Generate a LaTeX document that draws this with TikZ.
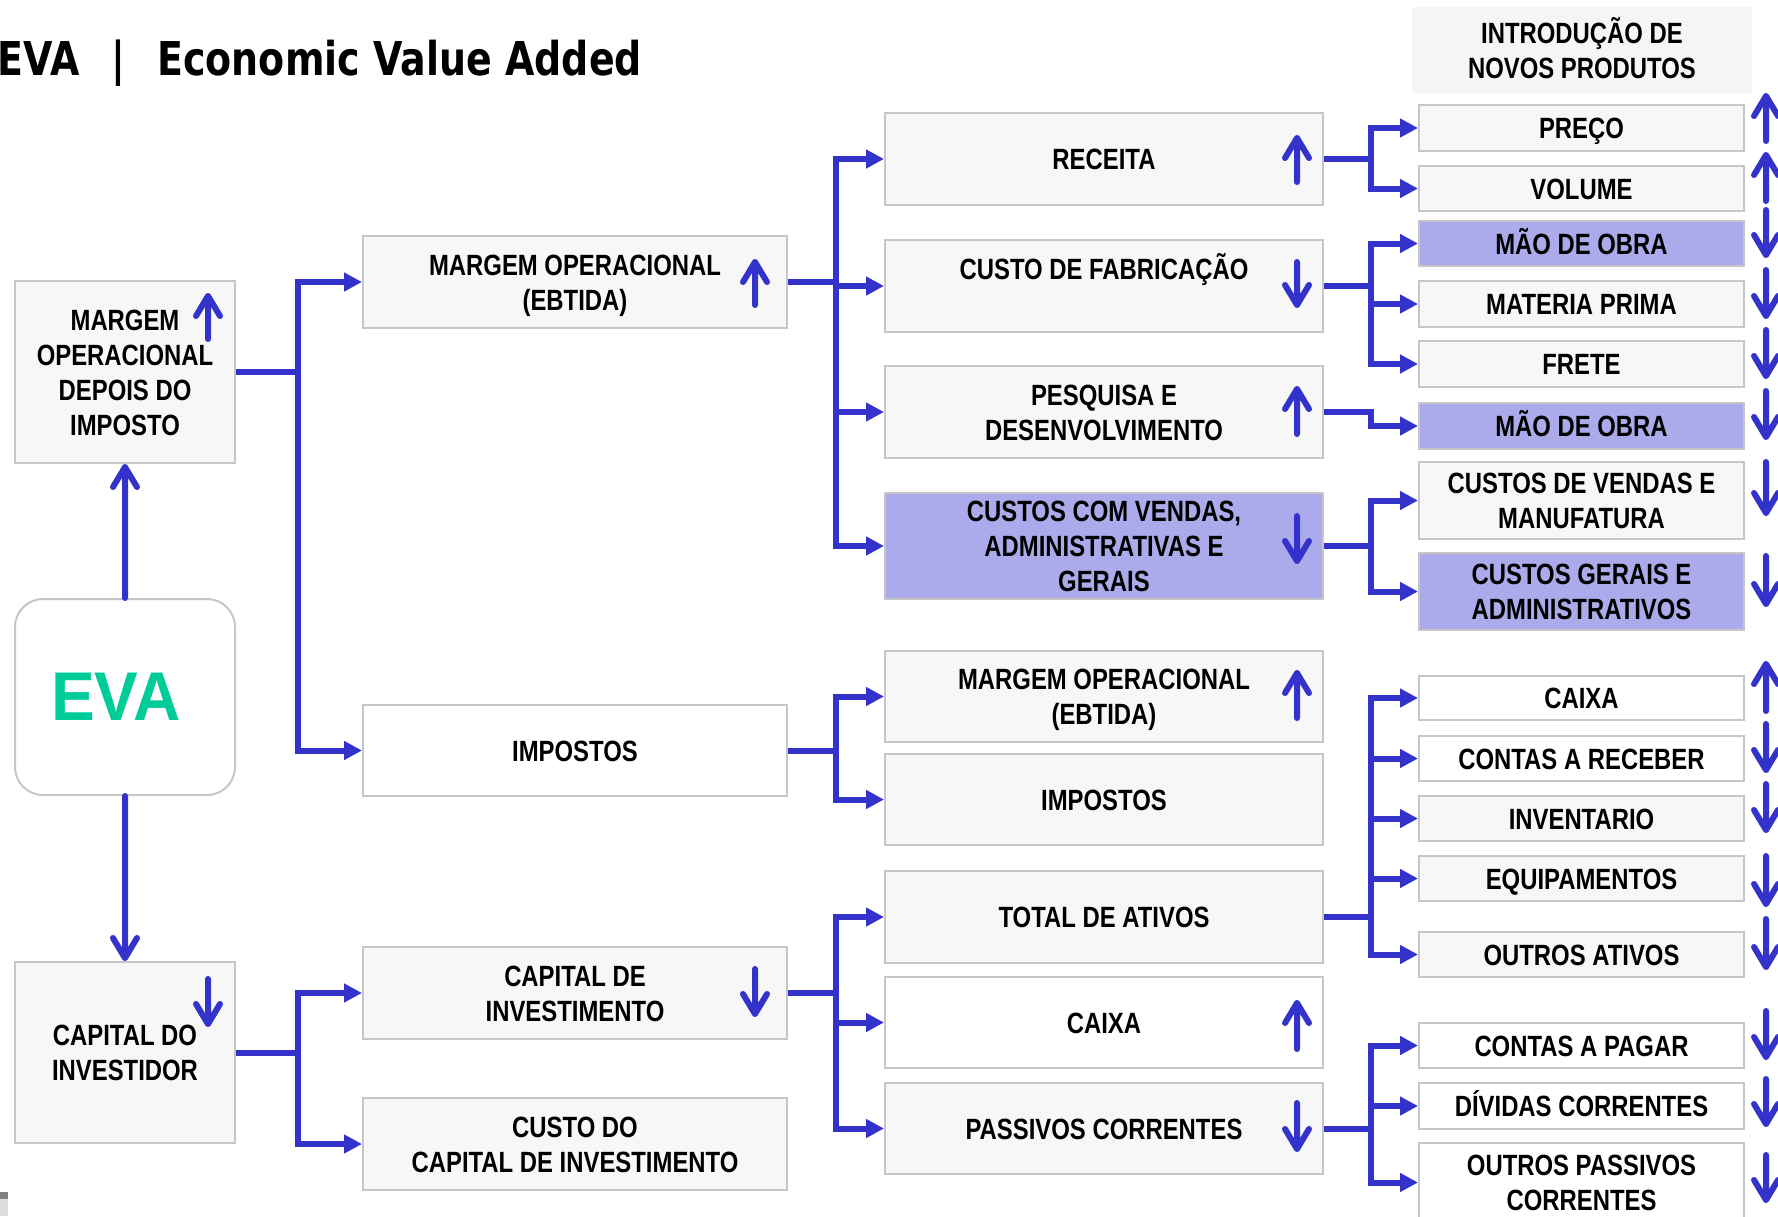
\documentclass[tikz,border=0pt]{standalone}
\usepackage{fontspec}
\usetikzlibrary{arrows.meta}
\newfontfamily\boxfont{Liberation Sans}[FakeStretch=0.815]
\newfontfamily\titlefont{DejaVu Sans}[FakeStretch=0.815]
\newfontfamily\evafont{Liberation Sans}[FakeStretch=0.95]
\definecolor{eblue}{RGB}{51,51,204}
\definecolor{lav}{RGB}{171,171,235}
\definecolor{bfill}{RGB}{247,247,247}
\definecolor{bline}{RGB}{198,198,198}
\definecolor{egreen}{RGB}{0,204,153}
\definecolor{introfill}{RGB}{245,245,245}
\definecolor{markdark}{RGB}{128,128,128}
\definecolor{marklight}{RGB}{221,221,221}
\newcommand\Ls{\rule[-3.5pt]{0pt}{17.5pt}}
\newcommand\Bx[7]{\node[bx,#6,minimum width={(#4-#2)*0.5pt},minimum height={(#5-#3)*0.5pt}] (#1) at ({(#2+#4)/2},{(#3+#5)/2}) {#7};}
\newcommand\UpA[3]{\draw[ind] (#1,#3-3) -- (#1,#2+3) (#1-12,#2+23) -- (#1,#2+3) -- (#1+12,#2+23);}
\newcommand\DnA[3]{\draw[ind] (#1,#2+3) -- (#1,#3-3) (#1-12,#3-23) -- (#1,#3-3) -- (#1+12,#3-23);}
\tikzset{
  bx/.style={draw=bline,line width=1pt,inner sep=0pt,align=center,
    font=\boxfont\bfseries\fontsize{14.65pt}{17.5pt}\selectfont},
  gbox/.style={fill=bfill},
  wbox/.style={fill=white},
  lbox/.style={fill=lav},
  ebox/.style={fill=white,rounded corners=14pt},
  ind/.style={draw=eblue,line width=3pt,line cap=round,line join=round},
  conn/.style={draw=eblue,line width=3pt,line join=miter,-{Triangle[length=9pt,width=9pt]}},
  ttl/.style={inner sep=0pt,anchor=base west,font=\titlefont\bfseries\fontsize{23.3pt}{28pt}\selectfont}
}
\begin{document}
\begin{tikzpicture}[x=0.5pt,y=-0.5pt]
\useasboundingbox (0,0) rectangle (1778,1216);
\clip (0,0) rectangle (1778,1216);
% title
\node[ttl] (t1) at (-3,75) {EVA};
\node[ttl,anchor=base] (t2) at (118,75) {|};
\node[ttl] (t3) at (157,75) {Economic Value Added};
% intro box
\node[fill=introfill,inner sep=0pt,align=center,minimum width=170pt,minimum height=43pt,
  font=\boxfont\bfseries\fontsize{14.65pt}{17.5pt}\selectfont] (intro) at (1582,50)
  {\Ls INTRODUÇÃO DE\\\Ls NOVOS PRODUTOS};
% column 1
\Bx{dep}{15}{281}{235}{463}{gbox}{\Ls MARGEM\\\Ls OPERACIONAL\\\Ls DEPOIS DO\\\Ls IMPOSTO}
\Bx{eva}{15}{599}{235}{795}{ebox}{\evafont\bfseries\fontsize{34.5pt}{40pt}\selectfont\color{egreen}EVA\hspace{9pt}}
\Bx{cap}{15}{962}{235}{1143}{gbox}{\Ls CAPITAL DO\\\Ls INVESTIDOR}
% column 2
\Bx{m2}{363}{236}{787}{328}{gbox}{\Ls MARGEM OPERACIONAL\\\Ls (EBTIDA)}
\Bx{imp2}{363}{705}{787}{796}{wbox}{\Ls IMPOSTOS}
\Bx{ci2}{363}{947}{787}{1039}{gbox}{\Ls CAPITAL DE\\\Ls INVESTIMENTO}
\Bx{cc2}{363}{1098}{787}{1190}{gbox}{\Ls CUSTO DO\\\Ls CAPITAL DE INVESTIMENTO}
% column 3
\Bx{rec}{885}{113}{1323}{205}{gbox}{\Ls RECEITA}
\Bx{cf}{885}{240}{1323}{332}{gbox}{\Ls CUSTO DE FABRICAÇÃO\\\Ls}
\Bx{pd}{885}{366}{1323}{458}{gbox}{\Ls PESQUISA E\\\Ls DESENVOLVIMENTO}
\Bx{cv}{885}{493}{1323}{599}{lbox}{\Ls CUSTOS COM VENDAS,\\\Ls ADMINISTRATIVAS E\\\Ls GERAIS}
\Bx{m3}{885}{651}{1323}{742}{gbox}{\Ls MARGEM OPERACIONAL\\\Ls (EBTIDA)}
\Bx{imp3}{885}{754}{1323}{845}{gbox}{\Ls IMPOSTOS}
\Bx{ta}{885}{871}{1323}{963}{gbox}{\Ls TOTAL DE ATIVOS}
\Bx{cx3}{885}{977}{1323}{1068}{wbox}{\Ls CAIXA}
\Bx{pc}{885}{1083}{1323}{1174}{gbox}{\Ls PASSIVOS CORRENTES}
% column 4
\Bx{p}{1419}{105}{1744}{151}{gbox}{\Ls PREÇO}
\Bx{v}{1419}{166}{1744}{211}{gbox}{\Ls VOLUME}
\Bx{mo1}{1419}{221}{1744}{266}{lbox}{\Ls MÃO DE OBRA}
\Bx{mp}{1419}{281}{1744}{327}{gbox}{\Ls MATERIA PRIMA}
\Bx{fr}{1419}{341}{1744}{387}{gbox}{\Ls FRETE}
\Bx{mo2}{1419}{403}{1744}{449}{lbox}{\Ls MÃO DE OBRA}
\Bx{cvm}{1419}{462}{1744}{539}{gbox}{\Ls CUSTOS DE VENDAS E\\\Ls MANUFATURA}
\Bx{cga}{1419}{553}{1744}{630}{lbox}{\Ls CUSTOS GERAIS E\\\Ls ADMINISTRATIVOS}
\Bx{cx4}{1419}{676}{1744}{720}{wbox}{\Ls CAIXA}
\Bx{cr}{1419}{736}{1744}{781}{wbox}{\Ls CONTAS A RECEBER}
\Bx{inv}{1419}{796}{1744}{841}{gbox}{\Ls INVENTARIO}
\Bx{eq}{1419}{856}{1744}{901}{gbox}{\Ls EQUIPAMENTOS}
\Bx{oa}{1419}{932}{1744}{977}{gbox}{\Ls OUTROS ATIVOS}
\Bx{cp}{1419}{1023}{1744}{1068}{wbox}{\Ls CONTAS A PAGAR}
\Bx{dc}{1419}{1083}{1744}{1129}{wbox}{\Ls DÍVIDAS CORRENTES}
\Bx{op}{1419}{1143}{1744}{1222}{wbox}{\Ls OUTROS PASSIVOS\\\Ls CORRENTES}
% buses
\coordinate (b1) at (298,0);
\coordinate (b2) at (836,0);
\coordinate (b3) at (1371,0);
% connectors
\foreach \c in {m2,imp2} \draw[conn] (dep.east) -- (dep.east -| b1) |- (\c.west);
\foreach \c in {ci2,cc2} \draw[conn] (cap.east) -- (cap.east -| b1) |- (\c.west);
\foreach \c in {rec,cf,pd,cv} \draw[conn] (m2.east) -- (m2.east -| b2) |- (\c.west);
\foreach \c in {m3,imp3} \draw[conn] (imp2.east) -- (imp2.east -| b2) |- (\c.west);
\foreach \c in {ta,cx3,pc} \draw[conn] (ci2.east) -- (ci2.east -| b2) |- (\c.west);
\foreach \c in {p,v} \draw[conn] (rec.east) -- (rec.east -| b3) |- (\c.west);
\foreach \c in {mo1,mp,fr} \draw[conn] (cf.east) -- (cf.east -| b3) |- (\c.west);
\draw[conn] (pd.east) -- (pd.east -| b3) |- (mo2.west);
\foreach \c in {cvm,cga} \draw[conn] (cv.east) -- (cv.east -| b3) |- (\c.west);
\foreach \c in {cx4,cr,inv,eq,oa} \draw[conn] (ta.east) -- (ta.east -| b3) |- (\c.west);
\foreach \c in {cp,dc,op} \draw[conn] (pc.east) -- (pc.east -| b3) |- (\c.west);
% EVA arrows
\draw[ind] (eva.north) -- ([yshift=-1.5pt]dep.south) ++(-12,20) -- ([yshift=-1.5pt]dep.south) -- ++(12,20);
\draw[ind] (eva.south) -- ([yshift=1.5pt]cap.north) ++(-12,-20) -- ([yshift=1.5pt]cap.north) -- ++(12,-20);
% indicator arrows inside boxes
\UpA{208}{293}{342}
\DnA{208}{976}{1027}
\UpA{755}{259}{308}
\DnA{755}{966}{1017}
\UpA{1297}{135}{185}
\DnA{1297}{259}{308}
\UpA{1297}{386}{437}
\DnA{1297}{513}{564}
\UpA{1297}{670}{721}
\UpA{1297}{1000}{1052}
\DnA{1297}{1100}{1152}
% right-hand arrows
\UpA{1766}{93}{144}
\UpA{1766}{152}{204}
\DnA{1766}{207}{258}
\DnA{1766}{267}{319}
\DnA{1766}{327}{379}
\DnA{1766}{388}{440}
\DnA{1766}{459}{516}
\DnA{1766}{553}{607}
\UpA{1766}{661}{714}
\DnA{1766}{721}{773}
\DnA{1766}{781}{833}
\DnA{1766}{853}{907}
\DnA{1766}{916}{970}
\DnA{1766}{1008}{1060}
\DnA{1766}{1076}{1127}
\DnA{1766}{1152}{1203}
% corner marks
\fill[markdark] (0,1192) rectangle (8,1199);
\fill[marklight] (0,1199) rectangle (8,1216);
\end{tikzpicture}
\end{document}
